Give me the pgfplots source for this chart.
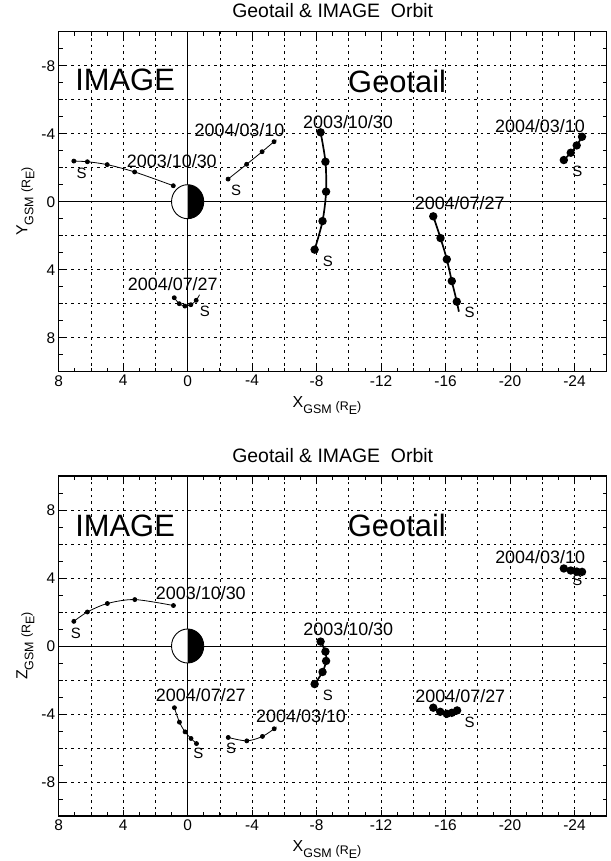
\documentclass[border=0pt]{standalone}
\usepackage{fontspec}
\setmainfont{Liberation Sans}
\usepackage{pgfplots}
\pgfplotsset{compat=1.18}

% sizes measured on the reference (1 px = 1 bp)
\newcommand{\dl}{\fontsize{18}{18}\selectfont}
\newcommand{\slab}{\fontsize{15}{15}\selectfont}
\newcommand{\bigt}{\fontsize{31}{31}\selectfont}
\newcommand{\axlab}[1]{{\fontsize{16}{16}\selectfont #1}\raisebox{-6bp}{\fontsize{12.5}{13}\selectfont GSM}\hspace{4bp}\raisebox{-3bp}{\fontsize{12.5}{13}\selectfont(R\raisebox{-4bp}{E})}}

\pgfplotsset{
  orbitaxis/.style={
    scale only axis, width=548bp, height=340bp,
    xmin=-26, xmax=8, x dir=reverse,
    ymin=-10, ymax=10,
    xtick={-24,-20,...,8}, ytick={-8,-4,...,8},
    minor x tick num=1, minor y tick num=1,
    extra x ticks={-25,-23,...,7}, extra y ticks={-9,-7,...,9},
    extra x tick labels={}, extra y tick labels={},
    extra tick style={grid=none, major tick length=4bp},
    grid=both,
    major grid style={black, line width=0.7bp, dash pattern=on 2.5bp off 4bp},
    minor grid style={black, line width=0.7bp, dash pattern=on 2.5bp off 4bp},
    major tick length=6bp, minor tick length=4bp,
    tick style={black, line width=0.8bp},
    tick align=inside,
    axis line style={line width=1.1bp},
    tick label style={font=\fontsize{15.5}{16}\selectfont},
    /pgf/number format/assume math mode=true,
    title={Geotail \& IMAGE\ \ Orbit},
    title style={at={(axis description cs:0.5,1.0235)}, anchor=base, font=\fontsize{19.5}{20}\selectfont},
    xlabel={\axlab{X}},
    xlabel style={at={(axis description cs:0.4896,-0.1045)}, anchor=base},
    ylabel style={at={(axis description cs:-0.0573,0.5)}, anchor=base},
  },
  img/.style={black, line width=0.8bp, smooth, mark=*, mark size=2bp, mark options={solid, fill=black}},
  geo/.style={black, line width=1.7bp, smooth, mark=*, mark size=3.3bp, mark options={solid, fill=black}},
}

\newcommand{\earth}{%
  \draw[line width=0.9bp] (axis cs:0,-10) -- (axis cs:0,10);
  \draw[line width=0.9bp] (axis cs:-26,0) -- (axis cs:8,0);
  \fill[white] (axis cs:0,0) ellipse [x radius=1, y radius=1];
  \begin{scope}
    \clip (axis cs:0,-2) rectangle (axis cs:-2,2);
    \fill[black] (axis cs:0,0) ellipse [x radius=1, y radius=1];
  \end{scope}
  \draw[line width=0.9bp] (axis cs:0,0) ellipse [x radius=1, y radius=1];
}

\begin{document}
\begin{tikzpicture}
\useasboundingbox (0,0) rectangle (611bp,861bp);

% ---------------- Y_GSM panel ----------------
\begin{axis}[orbitaxis, at={(58.7bp,489.3bp)}, anchor=south west,
  y dir=reverse,
  ylabel={\axlab{Y}}]
\earth
% IMAGE
\addplot[img] coordinates {(7.06,-2.39) (6.22,-2.35) (4.99,-2.18) (3.29,-1.75) (0.89,-0.94)};
\addplot[img, mark indices={1,2,3,4}] coordinates {(-2.51,-1.33) (-3.66,-2.20) (-4.62,-2.94) (-5.36,-3.53) (-5.51,-3.63)};
\addplot[img, mark indices={1,2,3,4,5}] coordinates {(0.83,5.65) (0.52,6.00) (0.17,6.14) (-0.20,6.06) (-0.53,5.80) (-0.74,5.47)};
% Geotail
\addplot[geo] coordinates {(-8.25,-4.08) (-8.55,-2.35) (-8.59,-0.59) (-8.37,1.14) (-7.88,2.82)};
\addplot[geo, mark indices={1,2,3,4,5}] coordinates {(-15.24,0.86) (-15.69,2.14) (-16.08,3.39) (-16.39,4.67) (-16.70,5.88) (-16.83,6.47)};
\addplot[geo] coordinates {(-23.34,-2.45) (-23.77,-2.88) (-24.14,-3.31) (-24.47,-3.82)};

\node[inner sep=0] at (axis cs:3.88,-7.16) {\bigt IMAGE};
\node[inner sep=0] at (axis cs:-13.0,-7.06) {\bigt Geotail};
\node[inner sep=0] at (axis cs:0.98,-2.39) {\dl 2003/10/30};
\node[inner sep=0] at (axis cs:6.58,-1.67) {\slab S};
\node[inner sep=0] at (axis cs:-3.22,-4.22) {\dl 2004/03/10};
\node[inner sep=0] at (axis cs:-3.0,-0.69) {\slab S};
\node[inner sep=0] at (axis cs:0.92,4.84) {\dl 2004/07/27};
\node[inner sep=0] at (axis cs:-1.07,6.47) {\slab S};
\node[inner sep=0] at (axis cs:-9.95,-4.71) {\dl 2003/10/30};
\node[inner sep=0] at (axis cs:-8.70,3.53) {\slab S};
\node[inner sep=0] at (axis cs:-16.88,0.10) {\dl 2004/07/27};
\node[inner sep=0] at (axis cs:-17.49,6.53) {\slab S};
\node[inner sep=0] at (axis cs:-21.86,-4.47) {\dl 2004/03/10};
\node[inner sep=0] at (axis cs:-24.18,-1.76) {\slab S};
\end{axis}

% ---------------- Z_GSM panel ----------------
\begin{axis}[orbitaxis, at={(58.7bp,45bp)}, anchor=south west,
  ylabel={\axlab{Z}}]
\earth
% IMAGE
\addplot[img] coordinates {(7.06,1.45) (6.22,2.00) (4.98,2.50) (3.28,2.73) (0.88,2.38)};
\addplot[img] coordinates {(0.82,-3.63) (0.51,-4.48) (0.16,-5.05) (-0.21,-5.44) (-0.55,-5.74)};
\addplot[img, mark indices={1,2,3,4}] coordinates {(-2.52,-5.38) (-3.67,-5.58) (-4.64,-5.32) (-5.37,-4.87) (-5.51,-4.76)};
% Geotail
\addplot[geo] coordinates {(-8.25,0.26) (-8.55,-0.33) (-8.59,-0.88) (-8.37,-1.53) (-7.88,-2.24)};
\addplot[geo] coordinates {(-15.24,-3.63) (-15.67,-3.87) (-16.08,-3.99) (-16.39,-3.93) (-16.72,-3.79)};
\addplot[geo] coordinates {(-23.34,4.56) (-23.77,4.44) (-24.14,4.38) (-24.47,4.36)};

\node[inner sep=0] at (axis cs:3.88,7.09) {\bigt IMAGE};
\node[inner sep=0] at (axis cs:-12.98,7.09) {\bigt Geotail};
\node[inner sep=0] at (axis cs:-0.82,3.10) {\dl 2003/10/30};
\node[inner sep=0] at (axis cs:6.93,0.75) {\slab S};
\node[inner sep=0] at (axis cs:-0.82,-2.89) {\dl 2004/07/27};
\node[inner sep=0] at (axis cs:-0.66,-6.33) {\slab S};
\node[inner sep=0] at (axis cs:-7.04,-4.13) {\dl 2004/03/10};
\node[inner sep=0] at (axis cs:-2.69,-6.03) {\slab S};
\node[inner sep=0] at (axis cs:-9.97,1.00) {\dl 2003/10/30};
\node[inner sep=0] at (axis cs:-8.70,-2.93) {\slab S};
\node[inner sep=0] at (axis cs:-16.92,-2.93) {\dl 2004/07/27};
\node[inner sep=0] at (axis cs:-17.49,-4.48) {\slab S};
\node[inner sep=0] at (axis cs:-21.87,5.21) {\dl 2004/03/10};
\node[inner sep=0] at (axis cs:-24.18,3.85) {\slab S};
\end{axis}
\end{tikzpicture}
\end{document}
